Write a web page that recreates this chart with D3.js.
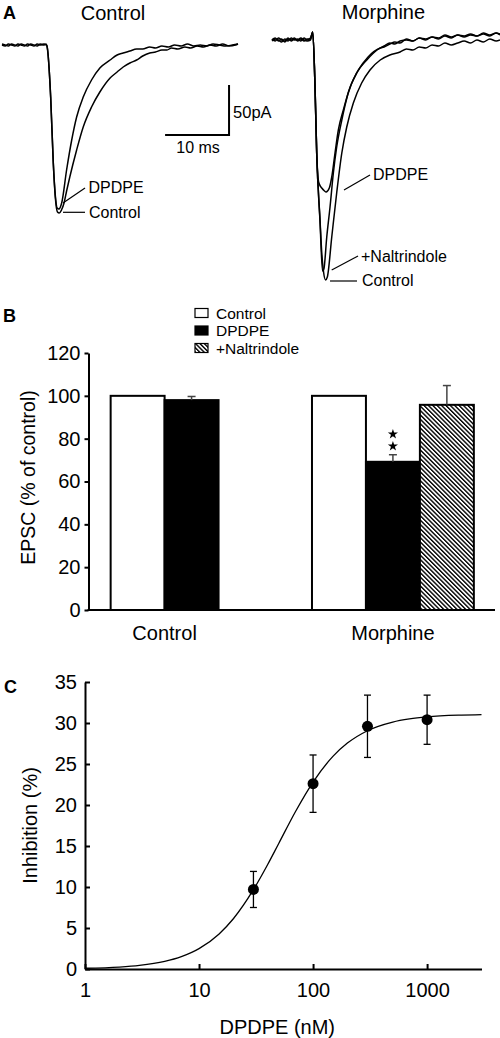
<!DOCTYPE html>
<html><head><meta charset="utf-8">
<script src="https://cdn.jsdelivr.net/npm/d3@7"></script>
<style>
body{margin:0;background:#fff}
svg{display:block}
text{font-family:"Liberation Sans",Arial,Helvetica,sans-serif;fill:#000}
</style>
</head><body>
<svg id="c" width="500" height="1038"></svg>
<script>
// ===== Panel A: EPSC traces, [time (ms), current (pA)] =====
const ctlControlTrace = [[0,0],[0.5,-1],[1,1],[1.5,0],[2,-1],[2.5,1],[3,0],[3.5,-1],[4,1],[4.5,0],[5,-1],[5.5,1],[6,0],[6.5,1],[6.9,0],
 [7.03,-1],[7.61,-52],[8.02,-118],[8.33,-152],[8.67,-167],[8.95,-168],[9.3,-165],[9.7,-158],[10.1,-146],[10.6,-132],[11.67,-105],[12.7,-82],[14.0,-62],[15.3,-47],[16.9,-33],[18.0,-27],[18.95,-22],[20,-18],[21.05,-15],[22,-11],[23.1,-8],[24,-7],[25,-5],[25.8,-5],[26.5,-3],[27.5,-4],[28.6,-2],[29.5,-3],[30.5,-1],[31.5,-2],[32.5,0],[33.5,-1],[34.5,1],[35.5,-1],[36.5,0],[36.9,1]];
const ctlDPDPETrace = [[0,1],[0.5,0],[1,-1],[1.5,1],[2,0],[2.5,-1],[3,1],[3.5,0],[4,-1],[4.5,1],[5,0],[5.5,-1],[6,1],[6.5,0],[6.9,1],
 [7.03,-1],[7.61,-52],[8.02,-118],[8.33,-150],[8.62,-163],[8.9,-164],[9.33,-158],[10.1,-125],[10.9,-95],[11.67,-72],[12.7,-52],[14.0,-35],[15.3,-23],[16.9,-15],[18.0,-10],[18.95,-8],[20,-6],[21.05,-4],[22,-4],[23.1,-2],[24,-3],[25,-1],[26,-2],[27,0],[28,-1],[29,1],[30,-1],[31,0],[32,-1],[33,1],[34,0],[35,-1],[36,0],[36.9,1]];
const morControlTrace = [[0,0],[0.5,2],[1,-1],[1.5,1],[2,-2],[2.5,1],[3,0],[3.5,2],[4,-1],[4.5,1],[5,-1],[5.5,1],[6.0,1],[6.36,8],
 [6.72,-47],[6.98,-113],[7.5,-180],[7.77,-213],[8.05,-232],[8.36,-240],[8.64,-237],[9.33,-197],[10.1,-153],[10.9,-113],[11.67,-87],[12.7,-63],[14.0,-43],[15.3,-30],[16.9,-20],[18.4,-15],[20,-12],[21,-9],[22,-10],[23,-7],[24,-8],[25,-5],[26,-6],[27,-3],[28,-5],[29,-3],[30,-1],[31,-3],[32,0],[33,-2],[34,1],[35,-1],[35.6,0]];
const morNaltrindoleTrace = [[0,-1],[0.5,1],[1,0],[1.5,-2],[2,1],[2.5,-1],[3,2],[3.5,0],[4,1],[4.5,-1],[5,2],[5.5,0],[6.0,2],[6.36,8],
 [6.72,-47],[6.98,-113],[7.5,-182],[7.89,-231],[8.1,-229],[8.55,-197],[9.06,-167],[9.58,-133],[10.1,-107],[10.9,-80],[11.9,-53],[13.2,-33],[14.8,-20],[16.4,-10],[17.5,-6],[18.4,-3],[19.2,-4],[20,-1],[21,0],[22,-1],[23,2],[24,1],[25,3],[26,2],[27,5],[28,3],[29,5],[30,4],[31,6],[32,4],[33,7],[34,5],[35,7],[35.6,6]];
const morDPDPETrace = [[0,1],[0.5,-1],[1,2],[1.5,0],[2,-1],[2.5,2],[3,-1],[3.5,1],[4,0],[4.5,2],[5,0],[5.5,-1],[6.0,0],[6.36,8],
 [6.72,-47],[6.98,-113],[7.23,-140],[7.39,-144],[7.77,-148],[8.2,-151],[8.44,-152],[8.95,-148],[9.33,-137],[9.84,-113],[10.36,-90],[11.14,-70],[12.2,-47],[13.5,-30],[15.0,-17],[16.9,-8],[17.5,-7],[18.4,-4],[19.2,-2],[20,-3],[21,1],[22,-1],[23,2],[24,0],[25,3],[26,1],[27,4],[28,2],[29,5],[30,3],[31,5],[32,4],[33,6],[34,4],[35,7],[35.6,5]];
const scaleBarMs = 10, scaleBarPA = 50;

// ===== Panel B: EPSC (% of control) =====
const groups = ["Control", "Morphine"];
const seriesNames = ["Control", "DPDPE", "+Naltrindole"];
const controlGroupValues = [100, 98];
const controlGroupErr = [0, 1.7];
const morphineGroupValues = [100, 69.2, 95.8];
const morphineGroupErr = [0, 3.3, 9.0];
const yTicksB = [0, 20, 40, 60, 80, 100, 120];

// ===== Panel C: dose-response =====
const doses = [30, 100, 300, 1000];
const inhibition = [9.7, 22.6, 29.6, 30.4];
const inhibitionErr = [2.2, 3.5, 3.8, 3.0];
const fitDoses = [1, 2, 3, 5, 7, 10, 15, 20, 30, 40, 50, 70, 100, 150, 200, 300, 500, 700, 1000, 2000, 3000];
const fitInhibition = [0.09, 0.24, 0.44, 0.93, 1.51, 2.48, 4.28, 6.13, 9.67, 12.74, 15.31, 19.18, 22.8, 25.96, 27.55, 29.06, 30.12, 30.5, 30.75, 30.97, 31.03];
const yTicksC = [0, 5, 10, 15, 20, 25, 30, 35];
const xTicksC = [1, 10, 100, 1000];

const svg = d3.select("#c");

// ---------- Panel A ----------
const xA1 = d3.scaleLinear().domain([0, 36.9]).range([2, 238]);
const yA1 = d3.scaleLinear().domain([0, -168]).range([45, 213]);
const xA2 = d3.scaleLinear().domain([0, 35.6]).range([272, 500]);
const yA2 = d3.scaleLinear().domain([0, -240]).range([40, 280]);
const lineA1 = d3.line().x(d => xA1(d[0])).y(d => yA1(d[1])).curve(d3.curveMonotoneX);
const lineA2 = d3.line().x(d => xA2(d[0])).y(d => yA2(d[1])).curve(d3.curveMonotoneX);

const gA = svg.append("g");
[ctlControlTrace, ctlDPDPETrace].forEach(tr => gA.append("path").attr("d", lineA1(tr))
  .attr("fill", "none").attr("stroke", "#000").attr("stroke-width", 1.5).attr("stroke-linejoin", "round"));
[morControlTrace, morNaltrindoleTrace, morDPDPETrace].forEach(tr => gA.append("path").attr("d", lineA2(tr))
  .attr("fill", "none").attr("stroke", "#000").attr("stroke-width", 1.5).attr("stroke-linejoin", "round"));

// annotations: [x-scale, y-scale, t1, i1, t2, i2, labelT, labelI, text]
const annA = [
  [xA1, yA1, 9.54, -158, 12.98, -143, 13.52, -148, "DPDPE"],
  [xA1, yA1, 9.54, -167.3, 12.98, -167.3, 13.6, -173, "Control"],
  [xA2, yA2, 11.24, -150, 15.3, -135, 15.77, -140, "DPDPE"],
  [xA2, yA2, 9.32, -230, 13.43, -216, 13.9, -222, "+Naltrindole"],
  [xA2, yA2, 9.06, -241, 13.27, -241, 14.05, -246, "Control"]
];
annA.forEach(a => {
  const [sx, sy, t1, i1, t2, i2, lt, li, txt] = a;
  gA.append("line").attr("x1", sx(t1)).attr("y1", sy(i1)).attr("x2", sx(t2)).attr("y2", sy(i2))
    .attr("stroke", "#000").attr("stroke-width", 1.2);
  gA.append("text").attr("x", sx(lt)).attr("y", sy(li)).attr("font-size", 16).text(txt);
});

// scale bar
const sbT0 = 25.5, sbI0 = -40;
gA.append("path")
  .attr("d", `M${xA1(sbT0)},${yA1(sbI0 - scaleBarPA)}H${xA1(sbT0 + scaleBarMs)}V${yA1(sbI0)}`)
  .attr("fill", "none").attr("stroke", "#000").attr("stroke-width", 2);
gA.append("text").attr("x", xA1(sbT0 + scaleBarMs) + 4).attr("y", yA1(sbI0 - 33)).attr("font-size", 16.5).text(scaleBarPA + "pA");
gA.append("text").attr("x", xA1(sbT0 + scaleBarMs / 2) + 1).attr("y", yA1(sbI0 - scaleBarPA) + 18).attr("font-size", 16)
  .attr("text-anchor", "middle").text(scaleBarMs + " ms");

gA.append("text").attr("x", 3).attr("y", 18.5).attr("font-size", 18).attr("font-weight", "bold").text("A");
gA.append("text").attr("x", xA1(17.35)).attr("y", 19.5).attr("font-size", 20).attr("text-anchor", "middle").text("Control");
gA.append("text").attr("x", xA2(17.4)).attr("y", 19).attr("font-size", 20).attr("text-anchor", "middle").text("Morphine");

// ---------- Panel B ----------
const gB = svg.append("g");
const yB = d3.scaleLinear().domain([0, 120]).range([610, 353]);
const xGroup = d3.scaleBand().domain(groups).range([88.5, 496]).paddingInner(0.196).paddingOuter(0.11);
const xSeries = d3.scaleBand().domain(seriesNames).range([0, xGroup.bandwidth()]);

const defs = svg.append("defs");
const pat = defs.append("pattern").attr("id", "hatch").attr("patternUnits", "userSpaceOnUse")
  .attr("width", 3.1).attr("height", 3.1).attr("patternTransform", "rotate(-45)");
pat.append("rect").attr("width", 3.1).attr("height", 3.1).attr("fill", "#fff");
pat.append("line").attr("x1", 0.7).attr("y1", -1).attr("x2", 0.7).attr("y2", 5).attr("stroke", "#000").attr("stroke-width", 1.4);
const fills = ["#fff", "#000", "url(#hatch)"];

const barData = [];
[[groups[0], controlGroupValues, controlGroupErr], [groups[1], morphineGroupValues, morphineGroupErr]].forEach(([g, vals, errs]) => {
  vals.forEach((v, i) => barData.push({group: g, series: seriesNames[i], idx: i, value: v, err: errs[i]}));
});

gB.selectAll("rect.bar").data(barData).join("rect").attr("class", "bar")
  .attr("x", d => xGroup(d.group) + xSeries(d.series))
  .attr("y", d => yB(d.value))
  .attr("width", xSeries.bandwidth())
  .attr("height", d => yB(0) - yB(d.value))
  .attr("fill", d => fills[d.idx]).attr("stroke", "#000").attr("stroke-width", 2);

barData.filter(d => d.err > 0).forEach(d => {
  const cx = xGroup(d.group) + xSeries(d.series) + xSeries.bandwidth() / 2;
  gB.append("line").attr("x1", cx).attr("x2", cx).attr("y1", yB(d.value)).attr("y2", yB(d.value + d.err))
    .attr("stroke", "#444").attr("stroke-width", 1.5);
  gB.append("line").attr("x1", cx - 4).attr("x2", cx + 4).attr("y1", yB(d.value + d.err)).attr("y2", yB(d.value + d.err))
    .attr("stroke", "#444").attr("stroke-width", 1.5);
});

// significance stars on Morphine DPDPE
{
  const d = barData.find(b => b.group === "Morphine" && b.series === "DPDPE");
  const cx = xGroup(d.group) + xSeries(d.series) + xSeries.bandwidth() / 2;
  const top = yB(d.value + d.err);
  [8.5, 20.5].forEach(off => gB.append("path").attr("d", d3.symbol(d3.symbolStar, 32)())
    .attr("transform", `translate(${cx},${top - off})`).attr("fill", "#000"));
}

// axes B
const axB = d3.axisLeft(yB).tickValues(yTicksB).tickSizeInner(4).tickSizeOuter(0).tickPadding(4);
const gAxB = gB.append("g").attr("transform", "translate(88.5,0)").call(axB);
gAxB.select(".domain").attr("stroke-width", 2);
gAxB.selectAll(".tick line").attr("stroke-width", 2);
gAxB.selectAll(".tick text").attr("font-size", 20).attr("font-family", '"Liberation Sans",Arial,sans-serif');
gB.append("line").attr("x1", 87.5).attr("x2", 495).attr("y1", yB(0)).attr("y2", yB(0)).attr("stroke", "#000").attr("stroke-width", 2);

gB.append("text").attr("transform", `translate(34.5,${(yB(0) + yB(120)) / 2 - 4}) rotate(-90)`)
  .attr("text-anchor", "middle").attr("font-size", 19.5).text("EPSC (% of control)");
[[groups[0], controlGroupValues.length], [groups[1], morphineGroupValues.length]].forEach(([g, n]) => {
  gB.append("text").attr("x", xGroup(g) + n * xSeries.bandwidth() / 2).attr("y", 640)
    .attr("text-anchor", "middle").attr("font-size", 20).text(g);
});
gB.append("text").attr("x", 3).attr("y", 321.5).attr("font-size", 18).attr("font-weight", "bold").text("B");

// legend
seriesNames.forEach((s, i) => {
  const cy = 313 + i * 17.5;
  gB.append("rect").attr("x", 195).attr("y", cy - 4.5).attr("width", 13).attr("height", 9)
    .attr("fill", fills[i]).attr("stroke", "#000").attr("stroke-width", 1.2);
  gB.append("text").attr("x", 216).attr("y", cy + 5.5).attr("font-size", 15.5).text(s);
});

// ---------- Panel C ----------
const gC = svg.append("g");
const xC = d3.scaleLog().domain([1, 3000]).range([85, 481.5]);
const yC = d3.scaleLinear().domain([0, 35]).range([969, 682]);

const axCy = d3.axisLeft(yC).tickValues(yTicksC).tickSizeInner(-5).tickSizeOuter(0).tickPadding(8).tickFormat(d3.format("d"));
const gAxCy = gC.append("g").attr("transform", `translate(${xC(1)},0)`).call(axCy);
const axCx = d3.axisBottom(xC).tickValues(xTicksC).tickSizeInner(-5).tickSizeOuter(0).tickPadding(14).tickFormat(d3.format("d"));
const gAxCx = gC.append("g").attr("transform", `translate(0,${yC(0)})`).call(axCx);
[gAxCy, gAxCx].forEach(g => {
  g.select(".domain").attr("stroke-width", 2);
  g.selectAll(".tick line").attr("stroke-width", 2);
  g.selectAll(".tick text").attr("font-size", 20).attr("font-family", '"Liberation Sans",Arial,sans-serif');
});

const fitLine = d3.line().x((d, i) => xC(fitDoses[i])).y(d => yC(d)).curve(d3.curveMonotoneX);
gC.append("path").attr("d", fitLine(fitInhibition)).attr("fill", "none").attr("stroke", "#000").attr("stroke-width", 1.3);

doses.forEach((dz, i) => {
  const cx = xC(dz);
  const y1 = yC(inhibition[i] + inhibitionErr[i]), y2 = yC(inhibition[i] - inhibitionErr[i]);
  gC.append("line").attr("x1", cx).attr("x2", cx).attr("y1", y1).attr("y2", y2).attr("stroke", "#000").attr("stroke-width", 1.3);
  [y1, y2].forEach(yy => gC.append("line").attr("x1", cx - 3.5).attr("x2", cx + 3.5).attr("y1", yy).attr("y2", yy)
    .attr("stroke", "#000").attr("stroke-width", 1.3));
});
gC.selectAll("circle.pt").data(doses).join("circle").attr("class", "pt")
  .attr("cx", d => xC(d)).attr("cy", (d, i) => yC(inhibition[i])).attr("r", 5.5).attr("fill", "#000");

gC.append("text").attr("transform", `translate(37,${(yC(0) + yC(35)) / 2}) rotate(-90)`)
  .attr("text-anchor", "middle").attr("font-size", 20).text("Inhibition (%)");
gC.append("text").attr("x", xC(Math.sqrt(30 * 100)) - 6).attr("y", 1034).attr("text-anchor", "middle").attr("font-size", 20).text("DPDPE (nM)");
gC.append("text").attr("x", 4).attr("y", 693).attr("font-size", 18).attr("font-weight", "bold").text("C");
</script>
</body></html>
